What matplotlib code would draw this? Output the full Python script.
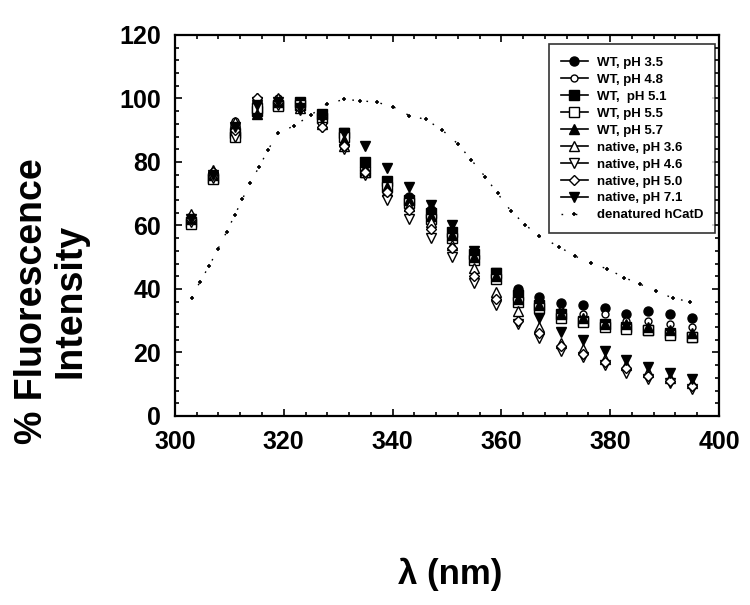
import matplotlib
matplotlib.use("Agg")
from matplotlib import pyplot as plt
from matplotlib.ticker import MultipleLocator

plt.rcParams['font.family'] = ['Liberation Sans', 'DejaVu Sans']
plt.rcParams['font.weight'] = 'bold'

# excitation wavelengths for the emission series (nm)
wl = list(range(303, 396, 4))

wt_35 = [62, 76, 92, 95, 98, 98, 95, 89, 79, 74, 69, 65, 58, 51, 45, 40, 37.5, 35.5, 35, 34, 32, 33, 32, 31]
wt_48 = [63, 77, 93, 99, 100, 98, 94, 88, 78, 73, 68, 63, 57, 50, 44, 38, 35, 33, 32, 32, 30, 30, 29, 28]
wt_51 = [61, 75, 89, 96, 98, 99, 95, 89, 80, 74, 68, 64, 58, 51, 45, 38, 35, 32, 30, 29, 28, 27, 26, 25]
wt_55 = [60.5, 74.5, 88, 97, 97.5, 98, 94, 88, 77, 72, 67, 62, 56, 49, 43, 36, 34, 31, 29.5, 28, 27.5, 27, 25.5, 25]
wt_57 = [62, 76, 90, 95, 99, 98, 95, 87, 78, 72, 68, 63, 57, 50, 44, 37, 35, 32, 31, 29, 29, 28, 27, 26]
nat_36 = [63.5, 77.5, 92.5, 100, 100, 97, 92, 85, 77, 71, 66, 61, 54, 46.5, 39, 33, 28, 23, 21, 18, 16, 14, 12, 10.5]
nat_46 = [61, 75, 88, 99, 98, 96.5, 91, 84, 76, 68, 62, 56, 50, 42, 35, 29, 24.5, 20.5, 18.5, 16, 13.5, 11.5, 10.5, 8.5]
nat_50 = [62, 77, 90, 100, 99, 97, 91, 85, 77, 70.5, 65, 59, 53, 44, 37, 30, 26, 22, 19.5, 17, 15, 12.5, 11, 9.5]
nat_71 = [62, 76, 91, 98, 99, 97, 94, 89, 85, 78, 72, 66.5, 60, 52, 45, 38, 31, 26.5, 24, 20.5, 17.5, 15.5, 13.5, 11.5]

den_x = [303.1, 304.6, 306.3, 307.9, 309.5, 311.0, 312.4, 313.8, 315.5, 317.1, 318.9, 321.9, 325.0,
         327.9, 331.1, 334.1, 337.1, 340.1, 343.1, 346.1, 349.1, 352.0, 354.5, 357.0, 359.3, 361.7,
         364.4, 366.9, 370.6, 373.5, 376.5, 379.5, 382.6, 385.5, 388.5, 391.5, 394.7]
den_y = [37.2, 42.3, 47.3, 52.6, 58.0, 63.3, 68.3, 73.5, 78.5, 83.8, 89.0, 91.4, 94.8,
         98.3, 99.7, 99.3, 98.8, 97.4, 94.6, 93.4, 90.1, 85.7, 80.6, 75.4, 70.1, 64.7,
         60.2, 56.7, 53.3, 50.4, 48.1, 46.3, 43.6, 41.5, 39.4, 37.1, 36.0]

series = [
    ("WT, pH 3.5", wt_35, 'o', 'black'),
    ("WT, pH 4.8", wt_48, 'o', 'white'),
    ("WT,  pH 5.1", wt_51, 's', 'black'),
    ("WT, pH 5.5", wt_55, 's', 'white'),
    ("WT, pH 5.7", wt_57, '^', 'black'),
    ("native, pH 3.6", nat_36, '^', 'white'),
    ("native, pH 4.6", nat_46, 'v', 'white'),
    ("native, pH 5.0", nat_50, 'D', 'white'),
    ("native, pH 7.1", nat_71, 'v', 'black'),
]

fig = plt.figure(figsize=(7.5, 6.05), dpi=100)
ax = fig.add_axes([0.2333, 0.3124, 0.7253, 0.6298])

handles = []
for label, vals, mk, fc in series:
    ms = 5.5 if mk == 'D' else 6.5
    if label == "WT, pH 4.8":
        ms = 5
    ax.plot(wl, vals, linestyle='none', marker=mk, ms=ms, mfc=fc, mec='black', mew=1)
    h, = ax.plot([], [], color='black', lw=1.2, marker=mk, ms=ms, mfc=fc, mec='black', mew=1)
    handles.append((h, label))

ax.plot(den_x, den_y, color='black', lw=1, linestyle=(0, (1.2, 9)), marker='+', ms=3.5, mew=1.2)
h, = ax.plot([], [], color='black', lw=1, linestyle=(0, (1.2, 9)), marker='+', ms=3.5, mew=1.2)
handles.append((h, "denatured hCatD"))

ax.set_xlim(300, 400)
ax.set_ylim(0, 120)
ax.xaxis.set_major_locator(MultipleLocator(20))
ax.xaxis.set_minor_locator(MultipleLocator(4))
ax.yaxis.set_major_locator(MultipleLocator(20))
ax.yaxis.set_minor_locator(MultipleLocator(4))
ax.tick_params(which='both', direction='in', top=True, right=True, width=1.2)
ax.tick_params(which='major', length=5, labelsize=18, pad=10)
ax.tick_params(which='minor', length=3)
for lab in ax.get_xticklabels() + ax.get_yticklabels():
    lab.set_fontweight('bold')
for sp in ax.spines.values():
    sp.set_linewidth(1.6)

leg = ax.legend([h for h, _ in handles], [l for _, l in handles],
                loc='upper right', bbox_to_anchor=(0.993, 0.975),
                prop={'size': 9.5, 'weight': 'bold'}, frameon=True, fancybox=False,
                edgecolor='black', handlelength=2.0, handletextpad=0.7,
                labelspacing=0.36, borderpad=0.9, borderaxespad=0)
leg.get_frame().set_linewidth(1.2)

fig.text(0.068, 0.502, "% Fluorescence\nIntensity", rotation=90, ha='center', va='center',
         fontsize=27, fontweight='bold', linespacing=1.1)
fig.text(0.6, 0.05, "λ (nm)", ha='center', va='center', fontsize=25, fontweight='bold')

fig.savefig("out.png", dpi=100)
